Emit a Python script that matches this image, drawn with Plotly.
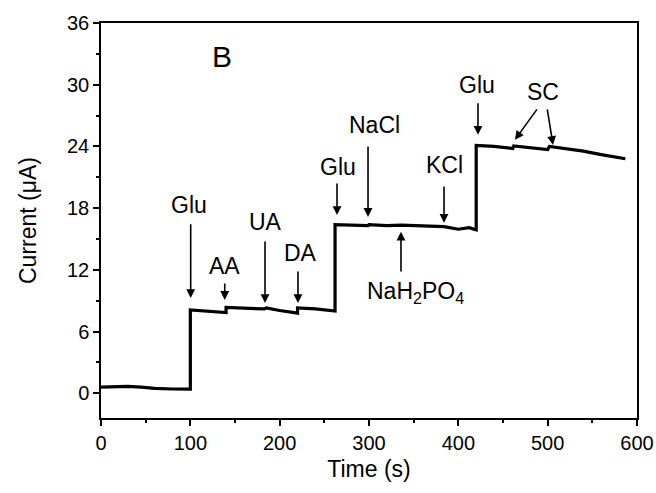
import plotly.graph_objects as go

# Amperometric response
time_s = [0, 15, 30, 45, 60, 80, 100, 100, 120, 140, 140, 160, 183, 185, 200, 220, 220, 240, 262, 262,
          280, 299, 300, 320, 336, 360, 384, 400, 412, 420, 420, 440, 461, 462, 480, 500, 502, 520, 540, 560, 587]
current_uA = [0.6, 0.62, 0.68, 0.6, 0.48, 0.42, 0.4, 8.1, 8.0, 7.85, 8.35, 8.3, 8.2, 8.3, 8.05, 7.8, 8.3, 8.2, 8.0, 16.4,
              16.35, 16.3, 16.4, 16.3, 16.35, 16.25, 16.2, 15.95, 16.1, 15.9, 24.1, 24.0, 23.8, 24.05, 23.9, 23.7, 24.0,
              23.8, 23.55, 23.2, 22.8]

# Injection events: label, injection time
event_labels = ["Glu", "AA", "UA", "DA", "Glu", "NaCl", "NaH<sub>2</sub>PO<sub>4</sub>", "KCl", "Glu", "SC", "SC"]
event_times = [100.4, 138.5, 183.6, 220.5, 264.2, 298.9, 335.8, 384, 422, 463.4, 506]

x_ticks = [0, 100, 200, 300, 400, 500, 600]
y_ticks = [0, 6, 12, 18, 24, 30, 36]

# arrow geometry (layout): tail y, tip y, tail x, text position
arrow_tail_y = [16.57, 10.83, 14.9, 12.0, 20.55, 24.15, 11.7, 20.26, 28.34, 27.75, 27.75]
arrow_tip_y = [9.27, 9.08, 8.78, 8.78, 17.34, 17.15, 15.7, 16.57, 25.13, 24.65, 24.15]
arrow_tail_x = [100.4, 138.5, 183.6, 220.5, 264.2, 298.9, 335.8, 384, 422, 489.2, 499.3]
label_pos = [(98.5, 18.3), (137.7, 12.4), (183.6, 16.7), (222.8, 13.65), (265.3, 22.0), (306.7, 26.1),
             (352.6, 9.76), (385, 22.2), (421, 30.0), None, (494.8, 29.3)]

FONT = "Arial, Liberation Sans, sans-serif"

fig = go.Figure()
fig.add_trace(go.Scatter(x=time_s, y=current_uA, mode="lines",
                         line=dict(color="black", width=3.2), showlegend=False))

annotations = []
for lab, t, tx, ty0, ty1, lp in zip(event_labels, event_times, arrow_tail_x, arrow_tail_y, arrow_tip_y, label_pos):
    annotations.append(dict(x=t, y=ty1, ax=tx, ay=ty0, xref="x", yref="y", axref="x", ayref="y",
                            text="", showarrow=True, arrowhead=2, arrowsize=1.1, arrowwidth=1.6,
                            arrowcolor="black", standoff=0, startstandoff=0))
    if lp is not None:
        annotations.append(dict(x=lp[0], y=lp[1], xref="x", yref="y", text=lab, showarrow=False,
                                font=dict(family=FONT, size=23, color="black"),
                                xanchor="center", yanchor="middle"))
annotations.append(dict(x=136, y=32.7, xref="x", yref="y", text="B", showarrow=False,
                        font=dict(family=FONT, size=30, color="black"), xanchor="center", yanchor="middle"))

fig.update_layout(
    width=656, height=493,
    margin=dict(l=101, r=19, t=23, b=75),
    paper_bgcolor="white", plot_bgcolor="white",
    font=dict(family=FONT, size=20, color="black"),
    annotations=annotations,
    xaxis=dict(range=[0, 600], tickvals=x_ticks, ticks="outside", ticklen=6, tickwidth=1.5,
               tickcolor="black", showline=True, linecolor="black", linewidth=1.5, mirror=True,
               showgrid=False, zeroline=False, automargin="height",
               minor=dict(dtick=50, ticks="outside", ticklen=3.5, tickwidth=1.5, tickcolor="black", showgrid=False),
               title=dict(text="Time (s)", font=dict(size=23), standoff=8),
               tickfont=dict(size=20)),
    yaxis=dict(range=[-2.4, 36], tickvals=y_ticks, ticks="outside", ticklen=6, tickwidth=1.5,
               tickcolor="black", showline=True, linecolor="black", linewidth=1.5, mirror=True,
               showgrid=False, zeroline=False, automargin="width",
               minor=dict(dtick=3, tick0=0, ticks="outside", ticklen=3.5, tickwidth=1.5, tickcolor="black", showgrid=False),
               title=dict(text="Current (μA)", font=dict(size=23), standoff=24),
               tickfont=dict(size=20)),
)

fig.write_html("out.html", config={"displayModeBar": False},
               post_script="document.body.style.margin='0';")
